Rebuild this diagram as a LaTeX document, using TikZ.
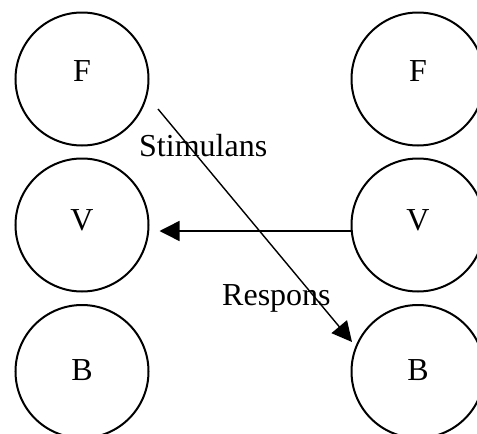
\documentclass[tikz,border=0pt]{standalone}
\usepackage{fontspec}
\setmainfont{Liberation Serif}
\usetikzlibrary{arrows.meta}
\begin{document}
\begin{tikzpicture}[x=1pt,y=-1pt,
  state/.style={circle,draw,line width=2pt,minimum size=133pt,inner sep=0pt,
                font=\fontsize{32}{38}\selectfont},
  lbl/.style={anchor=base west,inner sep=0pt,font=\fontsize{32}{38}\selectfont},
  link/.style={line width=1.4pt,-{Triangle[length=20pt,width=20pt]}}]
\useasboundingbox (0,0) rectangle (477,434);
\clip (0,0) rectangle (477,434);

% left column
\node[state,text depth=16pt] (lF) at (82,79)    {F};
\node[state,text depth=10pt] (lV) at (82,225)   {V};
\node[state,text depth=3pt]  (lB) at (82,371.5) {B};
% right column
\node[state,text depth=16pt] (rF) at (418,79)    {F};
\node[state,text depth=10pt] (rV) at (418,225)   {V};
\node[state,text depth=3pt]  (rB) at (418,371.5) {B};

% labels
\node[lbl] (stim) at (139,156) {Stimulans};
\node[lbl] (resp) at (222,305) {Respons};

% connectors
\coordinate (s0) at (158,109);
\coordinate (s1) at (352,342);
\draw[link] (s0) -- (s1);
\draw[link] ([yshift=-6pt]rV.west) -- ([xshift=10pt,yshift=-6pt]lV.east);
\end{tikzpicture}
\end{document}
